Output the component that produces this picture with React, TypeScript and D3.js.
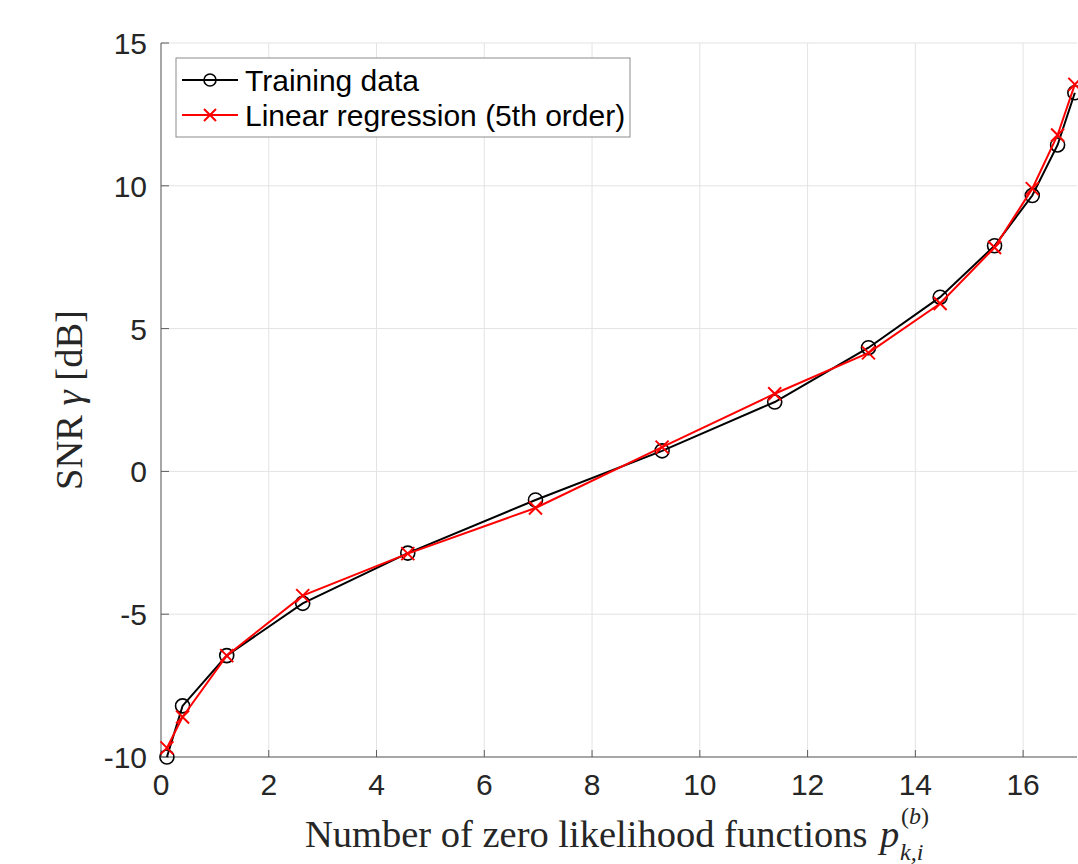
import React from "react";
import * as d3 from "d3";

// number of zero likelihood functions (x) for each training point
const xValues = [0.11, 0.4, 1.22, 2.63, 4.58, 6.95, 9.3, 11.39, 13.13, 14.46, 15.47, 16.17, 16.64, 16.96];
// SNR in dB
const trainingData = [-10.0, -8.21, -6.45, -4.62, -2.86, -1.0, 0.72, 2.43, 4.33, 6.1, 7.9, 9.66, 11.43, 13.26];
const regressionData = [-9.68, -8.6, -6.45, -4.35, -2.88, -1.28, 0.85, 2.72, 4.15, 5.88, 7.84, 9.9, 11.78, 13.55];

const xTicks = [0, 2, 4, 6, 8, 10, 12, 14, 16];
const yTicks = [-10, -5, 0, 5, 10, 15];

const seriesNames = ["Training data", "Linear regression (5th order)"];

const width = 1078;
const height = 864;
const margin = { top: 43, right: 1, bottom: 107, left: 161 };

const sansFont = "'Liberation Sans', Arial, Helvetica, sans-serif";
const serifFont = "'Liberation Serif', 'Times New Roman', serif";
const axisColor = "#5c5c5c";
const gridColor = "#e3e3e3";

const Cross = ({ x, y, s, color }: { x: number; y: number; s: number; color: string }) => (
  <path d={`M${x - s},${y - s}L${x + s},${y + s}M${x - s},${y + s}L${x + s},${y - s}`} stroke={color} strokeWidth={2} fill="none" />
);

export default function App() {
  const xScale = d3.scaleLinear().domain([0, 17]).range([margin.left, width - margin.right]);
  const yScale = d3.scaleLinear().domain([-10, 15]).range([height - margin.bottom, margin.top]);

  const training = xValues.map((x, i) => ({ x, y: trainingData[i] }));
  const regression = xValues.map((x, i) => ({ x, y: regressionData[i] }));

  const line = d3
    .line<{ x: number; y: number }>()
    .x((d) => xScale(d.x))
    .y((d) => yScale(d.y));

  const x0 = xScale.range()[0];
  const x1 = xScale.range()[1];
  const y0 = yScale.range()[0];
  const y1 = yScale.range()[1];

  // legend layout
  const lg = { x: 176, y: 58, w: 454, h: 79 };
  const rows = [lg.y + 22, lg.y + 57];

  return (
    <svg width={width} height={height} style={{ position: "absolute", left: 0, top: 0, background: "#fff" }}>
      <rect x={0} y={0} width={width} height={height} fill="#fff" />

      {/* grid */}
      {xTicks.map((t) => (
        <line key={"gx" + t} x1={xScale(t)} x2={xScale(t)} y1={y0} y2={y1} stroke={gridColor} strokeWidth={1} />
      ))}
      {yTicks.map((t) => (
        <line key={"gy" + t} x1={x0} x2={x1} y1={yScale(t)} y2={yScale(t)} stroke={gridColor} strokeWidth={1} />
      ))}

      {/* axes */}
      <line x1={x0} x2={x1} y1={y0} y2={y0} stroke={axisColor} strokeWidth={1} />
      <line x1={x0} x2={x0} y1={y0} y2={y1} stroke={axisColor} strokeWidth={1} />
      {xTicks.map((t) => (
        <g key={"tx" + t}>
          <line x1={xScale(t)} x2={xScale(t)} y1={y0} y2={y0 - 7} stroke={axisColor} strokeWidth={1} />
          <text x={xScale(t)} y={y0 + 38} textAnchor="middle" fontFamily={sansFont} fontSize={30} fill="#262626">
            {t}
          </text>
        </g>
      ))}
      {yTicks.map((t) => (
        <g key={"ty" + t}>
          <line x1={x0} x2={x0 + 8} y1={yScale(t)} y2={yScale(t)} stroke={axisColor} strokeWidth={1} />
          <text x={x0 - 14} y={yScale(t) + 11} textAnchor="end" fontFamily={sansFont} fontSize={30} fill="#262626">
            {t < 0 ? "-" + Math.abs(t) : t}
          </text>
        </g>
      ))}

      {/* series */}
      <path d={line(training) ?? ""} fill="none" stroke="#000" strokeWidth={2} />
      {training.map((d, i) => (
        <circle key={"c" + i} cx={xScale(d.x)} cy={yScale(d.y)} r={7} fill="none" stroke="#000" strokeWidth={1.6} />
      ))}
      <path d={line(regression) ?? ""} fill="none" stroke="#ff0000" strokeWidth={2} />
      {regression.map((d, i) => (
        <Cross key={"x" + i} x={xScale(d.x)} y={yScale(d.y)} s={6.5} color="#ff0000" />
      ))}

      {/* legend */}
      <rect x={lg.x} y={lg.y} width={lg.w} height={lg.h} fill="#fff" stroke="#8c8c8c" strokeWidth={1} />
      <line x1={182} x2={238} y1={rows[0]} y2={rows[0]} stroke="#000" strokeWidth={2} />
      <circle cx={210} cy={rows[0]} r={6} fill="none" stroke="#000" strokeWidth={1.6} />
      <line x1={182} x2={238} y1={rows[1]} y2={rows[1]} stroke="#ff0000" strokeWidth={2} />
      <Cross x={210} y={rows[1]} s={6} color="#ff0000" />
      {seriesNames.map((name, i) => (
        <text key={name} x={245} y={rows[i] + 11} fontFamily={sansFont} fontSize={30} fill="#000">
          {name}
        </text>
      ))}

      {/* axis labels */}
      <text x={305} y={847} fontFamily={serifFont} fontSize={38.5} fill="#262626">
        Number of zero likelihood functions
      </text>
      <text x={880} y={847} fontFamily={serifFont} fontSize={38.5} fontStyle="italic" fill="#262626">
        p
      </text>
      <text x={900} y={860} fontFamily={serifFont} fontSize={24} fontStyle="italic" fill="#262626">
        k,i
      </text>
      <text x={901} y={824} fontFamily={serifFont} fontSize={24} fill="#262626">
        (<tspan fontStyle="italic">b</tspan>)
      </text>
      <text
        transform={`translate(82, ${(y0 + y1) / 2}) rotate(-90)`}
        textAnchor="middle"
        fontFamily={serifFont}
        fontSize={38.5}
        fill="#262626"
      >
        SNR <tspan fontStyle="italic">γ</tspan> [dB]
      </text>
    </svg>
  );
}
